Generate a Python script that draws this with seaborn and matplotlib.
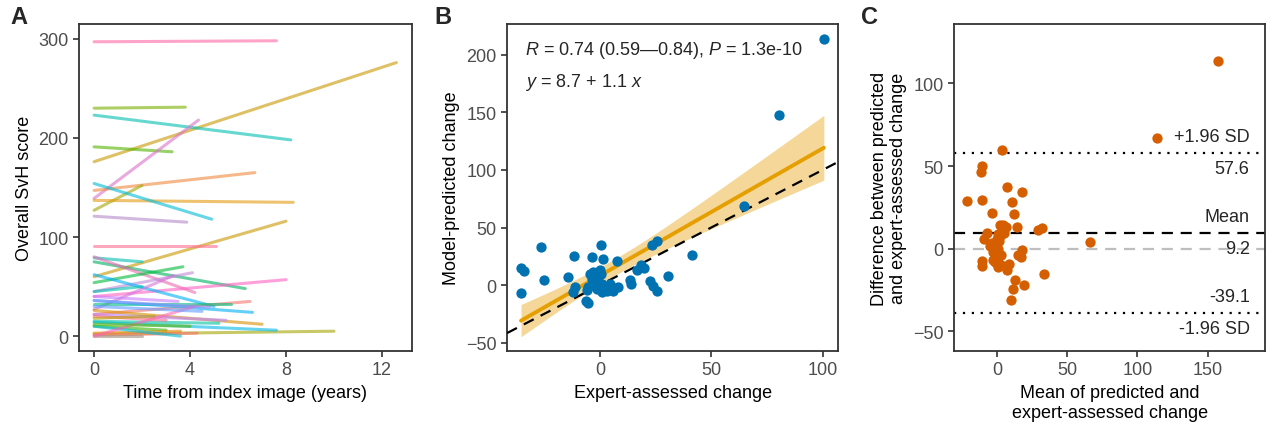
import numpy as np
import pandas as pd
import matplotlib
matplotlib.use("Agg")
import matplotlib.pyplot as plt
import seaborn as sns

# -----------------------------------------
#  Data
# -----------------------------------------

# Panel A: one segment per subject, index image (t = 0) -> last follow-up
START_SCORE = [297, 176, 230, 223, 191, 139, 147, 127, 137, 154, 121,
               60, 91, 79, 75, 80, 54, 40, 45, 62, 27, 2, 22, 32, 36,
               26, 22, 14, 15, 10, 3, 1, 10, 0, 0, 36, 20, 40, 30, 18,
               45, 12]
FOLLOWUP_YEARS = [7.6, 12.6, 3.8, 8.2, 3.25, 4.35, 6.7, 2.0, 8.3, 4.9, 3.86,
                  8.0, 5.1, 2.0, 6.3, 4.2, 3.7, 8.0, 4.1, 5.0, 3.3, 10.0, 6.5, 5.7, 6.6,
                  7.0, 5.5, 7.6, 5.2, 3.0, 3.6, 4.3, 3.6, 2.0, 4.2, 4.8, 3.0, 3.5, 4.5, 2.5,
                  2.0, 4.0]
END_SCORE = [298, 276, 231, 198, 186, 218, 165, 152, 135, 118, 115,
             116, 91, 75, 48, 44, 70, 57, 64, 30, 61, 5, 35, 32, 24,
             12, 16, 6, 13, 6, 5, 3, 0, 0, 30, 29, 16, 35, 25, 20,
             50, 10]
LINE_COLORS = ["#FF67A4", "#C99800", "#7CAE00", "#00BFB0", "#53B400", "#DA72C8",
               "#F08A3E", "#A3A500", "#E39A10", "#00BCD8", "#B58AC8",
               "#C99800", "#FF6C90", "#00BFB0", "#00B060", "#E86CB0", "#00BA38",
               "#FF61C3", "#C08AD8", "#00B0F6", "#D373D8", "#A3A500", "#F8766D",
               "#00BF7D", "#00B0F6", "#D89000", "#B983FF", "#00B8E7", "#00C1A3",
               "#39B600", "#E58700", "#F8766D", "#00BCD8", "#A09080", "#FF62BC",
               "#9590FF", "#FF6C90", "#C77CFF", "#619CFF", "#B79F00", "#00C0AF",
               "#53B400"]

# Panel B: expert-assessed vs model-predicted change
EXPERT_CHANGE = [-35.5, -34.3, -35.4, -26.4, -25.3, -14.4, -11.5, -11.4, -12.3,
                 -6.4, -5.2, -3.5, 0.6, 1.5, 7.6, -4.5, -3.0, 0.0, 0.4, -3.7,
                 -0.7, -5.2, -6.0, -1.5, 2.2, 4.5, 8.2, 0.7, 6.0, -1.5, -3.0,
                 1.9, 4.8, 13.5, 13.8, 16.8, 18.4, 19.9, 22.5, 23.7, 25.6,
                 23.5, 25.6, 30.4, 41.5, 64.6, 80.6, 100.6, -2.0, 1.0, 3.0]
MODEL_CHANGE = [14.8, 12.2, -6.7, 33.3, 4.3, 7.2, 25.5, -2.0, -6.4,
                -14.2, -15.9, 24.6, 35.0, 22.6, 20.6, 9.6, 11.0, 13.0, 9.6, 5.2,
                3.7, -2.0, -4.5, -3.5, -2.0, 0.9, -2.0, -6.4, -4.9, 6.0, 2.6,
                -4.6, -3.2, 4.0, 1.0, 12.7, 17.7, 14.8, 3.2, -0.6, -5.5,
                34.8, 38.0, 8.1, 26.1, 68.4, 147.5, 214.0, -1.0, 1.0, -5.0]

# Panel C: Bland-Altman limits as printed
MEAN_DIFF = 9.2
UPPER_LOA = 57.6
LOWER_LOA = -39.1

BLUE = "#0072B2"
ORANGE = "#E69F00"
VERMILION = "#D55E00"
FRAME = "#333333"

# -----------------------------------------
#  Style
# -----------------------------------------

sns.set_theme(style="ticks")
plt.rcParams.update({
    "font.family": ["Liberation Sans", "DejaVu Sans"],
    "mathtext.fontset": "custom",
    "mathtext.rm": "Liberation Sans",
    "mathtext.it": "Liberation Sans:italic",
    "font.size": 13,
    "axes.labelsize": 13,
    "axes.labelcolor": "black",
    "xtick.labelsize": 13,
    "ytick.labelsize": 13,
    "xtick.labelcolor": "#4D4D4D",
    "ytick.labelcolor": "#4D4D4D",
    "xtick.color": FRAME,
    "ytick.color": FRAME,
    "xtick.major.size": 4,
    "ytick.major.size": 4,
    "xtick.major.width": 1.2,
    "ytick.major.width": 1.2,
    "axes.edgecolor": FRAME,
    "axes.linewidth": 1.3,
})

fig = plt.figure(figsize=(12.66, 4.27), dpi=100)
axA = fig.add_axes([0.0624, 0.1756, 0.263, 0.766])
axB = fig.add_axes([0.4005, 0.1756, 0.2615, 0.766])
axC = fig.add_axes([0.7536, 0.1756, 0.2457, 0.766])

for ax in (axA, axB, axC):
    for sp in ax.spines.values():
        sp.set_visible(True)

# -----------------------------------------
#  Panel A — trajectories
# -----------------------------------------

n = len(START_SCORE)
dfA = pd.DataFrame({
    "subject": np.repeat(np.arange(n), 2),
    "years": np.ravel([[0.0, t] for t in FOLLOWUP_YEARS]),
    "score": np.ravel([[s, e] for s, e in zip(START_SCORE, END_SCORE)]),
})
sns.lineplot(data=dfA, x="years", y="score", hue="subject", palette=LINE_COLORS,
             estimator=None, legend=False, alpha=0.6, linewidth=2.2, ax=axA)
axA.set_xlim(-0.63, 13.25)
axA.set_ylim(-15, 315)
axA.set_xticks([0, 4, 8, 12])
axA.set_yticks([0, 100, 200, 300])
axA.set_xlabel("Time from index image (years)")
axA.set_ylabel("Overall SvH score")

# -----------------------------------------
#  Panel B — agreement scatter with lm fit
# -----------------------------------------

x = np.array(EXPERT_CHANGE)
y = np.array(MODEL_CHANGE)
dfB = pd.DataFrame({"expert": x, "model": y})

# linear fit and 95% CI of the mean (like geom_smooth(method = "lm"))
slope, intercept = np.polyfit(x, y, 1)
xs = np.linspace(x.min(), x.max(), 100)
fit = intercept + slope * xs
resid = y - (intercept + slope * x)
s_err = np.sqrt(np.sum(resid ** 2) / (len(x) - 2))
se = s_err * np.sqrt(1 / len(x) + (xs - x.mean()) ** 2 / np.sum((x - x.mean()) ** 2))
tval = 2.01
axB.fill_between(xs, fit - tval * se, fit + tval * se, color=ORANGE, alpha=0.4,
                 linewidth=0, zorder=1)
sns.lineplot(x=xs, y=fit, color=ORANGE, linewidth=2.8, ax=axB, zorder=2)
axB.axline((0, 0), slope=1, color="black", linestyle=(0, (5, 3.5)), linewidth=1.6,
           zorder=3)
sns.scatterplot(data=dfB, x="expert", y="model", color=BLUE, s=55, linewidth=0,
                ax=axB, zorder=4)
axB.set_xlim(-41.8, 107)
axB.set_ylim(-57.4, 227)
axB.set_xticks([0, 50, 100])
axB.set_yticks([-50, 0, 50, 100, 150, 200])
axB.set_xlabel("Expert-assessed change")
axB.set_ylabel("Model-predicted change")
axB.text(0.055, 0.955, "$R$ = 0.74 (0.59—0.84), $P$ = 1.3e-10",
         transform=axB.transAxes, ha="left", va="top", fontsize=13)
axB.text(0.055, 0.855, "$y$ = 8.7 + 1.1 $x$",
         transform=axB.transAxes, ha="left", va="top", fontsize=13)

# -----------------------------------------
#  Panel C — Bland-Altman
# -----------------------------------------

dfC = pd.DataFrame({"mean": (x + y) / 2, "diff": y - x})
axC.axhline(0, color="#BEBEBE", linestyle=(0, (5, 3.5)), linewidth=1.6, zorder=1)
axC.axhline(MEAN_DIFF, color="black", linestyle=(0, (5, 3.5)), linewidth=1.6, zorder=1)
axC.axhline(UPPER_LOA, color="black", linestyle=(0, (1, 3)), linewidth=1.6, zorder=1)
axC.axhline(LOWER_LOA, color="black", linestyle=(0, (1, 3)), linewidth=1.6, zorder=1)
sns.scatterplot(data=dfC, x="mean", y="diff", color=VERMILION, s=55, linewidth=0,
                ax=axC, zorder=3)
xr = 180
off = 10
for yv, above, below in [(UPPER_LOA, "+1.96 SD", f"{UPPER_LOA:.1f}"),
                         (MEAN_DIFF, "Mean", f"{MEAN_DIFF:.1f}"),
                         (LOWER_LOA, f"{LOWER_LOA:.1f}", "-1.96 SD")]:
    axC.text(xr, yv + off, above, ha="right", va="center", fontsize=13)
    axC.text(xr, yv - off + 1, below, ha="right", va="center", fontsize=13)
axC.set_xlim(-30.5, 191)
axC.set_ylim(-62, 136)
axC.set_xticks([0, 50, 100, 150])
axC.set_yticks([-50, 0, 50, 100])
axC.set_xlabel("Mean of predicted and\nexpert-assessed change")
axC.set_ylabel("Difference between predicted\nand expert-assessed change")

# panel letters
for label, px in [("A", 0.008), ("B", 0.343), ("C", 0.68)]:
    fig.text(px, 0.985, label, ha="left", va="top", fontsize=17, fontweight="bold")

fig.savefig("out.png", dpi=100)
